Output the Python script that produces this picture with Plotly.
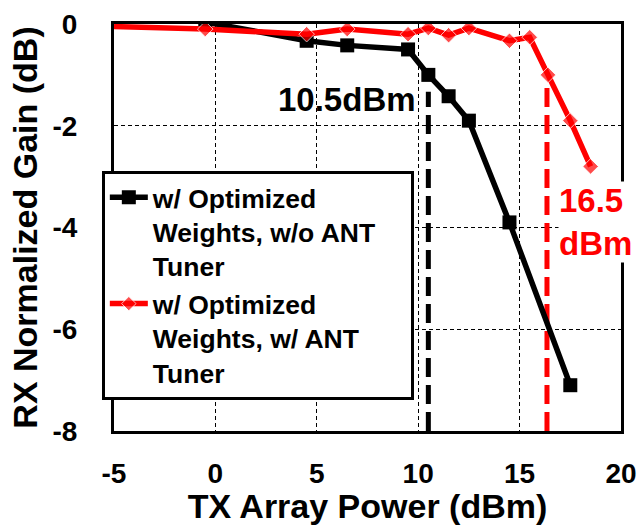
import plotly.graph_objects as go

# ---- data ----
black_x = [-0.5, 4.5, 6.5, 9.5, 10.5, 11.5, 12.5, 14.5, 17.5]
black_y = [0.04, -0.33, -0.42, -0.5, -1.0, -1.42, -1.9, -3.9, -7.1]

red_x = [-5, -0.5, 4.5, 6.5, 9.5, 10.5, 11.5, 12.5, 14.5, 15.5, 16.4, 17.5, 18.5]
red_y = [-0.05, -0.1, -0.2, -0.1, -0.2, -0.08, -0.22, -0.08, -0.33, -0.26, -1.0, -1.9, -2.8]

black_mark_x = [10.5, 10.5]
black_mark_y = [-8, -1.33]
red_mark_x = [16.35, 16.35]
red_mark_y = [-8, -1.2]

x_ticks = [-5, 0, 5, 10, 15, 20]
x_tick_text = ["-5", "0", "5", "10", "15", "20"]
y_ticks = [0, -2, -4, -6, -8]
y_tick_text = ["0", "-2", "-4", "-6", "-8"]

NB = "\u00a0"
black_name = "w/ Optimized<br>Weights, w/o ANT" + NB * 4 + "<br>Tuner"
red_name = "w/ Optimized<br>Weights, w/ ANT<br>Tuner"

FONT = "Liberation Sans, Arial, sans-serif"

fig = go.Figure()

fig.add_trace(go.Scatter(
    x=black_mark_x, y=black_mark_y, mode="lines", showlegend=False,
    line=dict(color="black", width=5, dash="19px,8px"), hoverinfo="skip"))
fig.add_trace(go.Scatter(
    x=red_mark_x, y=red_mark_y, mode="lines", showlegend=False,
    line=dict(color="#FF0000", width=5, dash="19px,8px"), hoverinfo="skip"))

fig.add_trace(go.Scatter(
    x=black_x, y=black_y, mode="lines+markers", name=black_name,
    line=dict(color="black", width=5.5),
    marker=dict(symbol="square", size=14, color="black")))

red_sizes = [0] + [12] * (len(red_x) - 1)
fig.add_trace(go.Scatter(
    x=red_x, y=red_y, mode="lines+markers", name=red_name,
    line=dict(color="#FF0000", width=5.5),
    marker=dict(symbol="diamond", size=red_sizes, color="#FF0000")))

fig.add_annotation(
    x=6.5, y=-1.49, xref="x", yref="y", text="10.5dBm", showarrow=False,
    font=dict(family=FONT, size=33, color="black", weight="bold"))
fig.add_annotation(
    x=16.9, y=-3.9, xref="x", yref="y", text="16.5<br>dBm", showarrow=False,
    xanchor="left", align="left", bgcolor="white", borderpad=0,
    font=dict(family=FONT, size=33, color="#FF0000", weight="bold"))

fig.update_layout(
    width=639, height=525,
    margin=dict(l=114, r=18, t=24, b=94, autoexpand=False),
    paper_bgcolor="white", plot_bgcolor="white",
    font=dict(family=FONT, size=28, color="black", weight="bold"),
    legend=dict(
        x=-0.024, y=0.64, xanchor="left", yanchor="top",
        bgcolor="white", bordercolor="black", borderwidth=3,
        font=dict(family=FONT, size=26.5, color="black", weight="bold"),
        valign="top", traceorder="normal", tracegroupgap=0, itemwidth=38),
    xaxis=dict(
        range=[-5, 20], tickvals=x_ticks, ticktext=x_tick_text, ticks="",
        showline=True, mirror=True, automargin=False,
        linecolor="black", linewidth=3, zeroline=False,
        showgrid=True, gridcolor="black", gridwidth=1, griddash="4px,3px",
        ticklabelstandoff=15,
        title=dict(text="TX Array Power (dBm)", standoff=16,
                   font=dict(family=FONT, size=34, weight="bold"))),
    yaxis=dict(
        range=[-8, 0], tickvals=y_ticks, ticktext=y_tick_text, ticks="",
        showline=True, mirror=True, automargin=False,
        linecolor="black", linewidth=3, zeroline=False,
        showgrid=True, gridcolor="black", gridwidth=1, griddash="4px,3px",
        ticklabelstandoff=28,
        title=dict(text="RX Normalized Gain (dB)", standoff=5,
                   font=dict(family=FONT, size=34, weight="bold"))),
)

fig.write_html("out.html")
